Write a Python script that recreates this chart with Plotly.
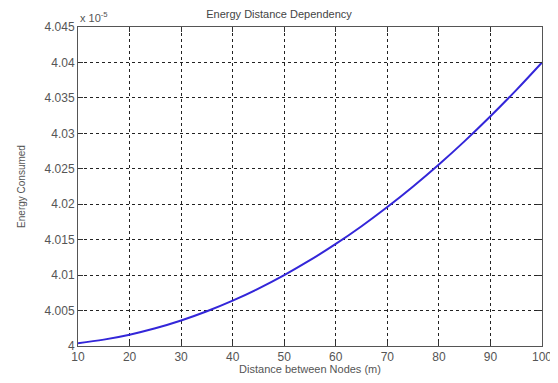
import plotly.graph_objects as go

distance = [10, 15, 20, 25, 30, 35, 40, 45, 50, 55, 60, 65, 70, 75, 80, 85, 90, 95, 100]
energy = [4.0004, 4.0009, 4.0016, 4.0025, 4.0036, 4.0049, 4.0064, 4.0081, 4.0100, 4.0121,
          4.0144, 4.0169, 4.0196, 4.0225, 4.0256, 4.0289, 4.0324, 4.0361, 4.0400]

x_ticks = [10, 20, 30, 40, 50, 60, 70, 80, 90, 100]
y_ticks = [4.0, 4.005, 4.01, 4.015, 4.02, 4.025, 4.03, 4.035, 4.04, 4.045]
y_tick_labels = ["4", "4.005", "4.01", "4.015", "4.02", "4.025", "4.03", "4.035", "4.04", "4.045"]

fig = go.Figure()
fig.add_trace(go.Scatter(x=distance, y=energy, mode="lines", line=dict(color="#3326d9", width=2, shape="spline")))

font = dict(family="Liberation Sans, Arial", size=11, color="#555555")
fig.update_layout(
    width=542, height=367,
    margin=dict(l=70, r=8, t=19, b=29, autoexpand=False),
    paper_bgcolor="white", plot_bgcolor="white",
    showlegend=False,
    font=font,
    title=dict(text="Energy Distance Dependency", x=0.5, xanchor="center", y=0.982, yanchor="middle",
               font=dict(family="Liberation Sans, Arial", size=11, color="#444444")),
)
fig.update_xaxes(range=[10, 100], tickvals=x_ticks, ticks="inside", ticklen=5, tickcolor="#333333",
                 showline=True, linecolor="#555555", linewidth=1, mirror="ticks", automargin=False,
                 ticklabeloverflow="allow",
                 showgrid=True, gridcolor="#222222", griddash="3px,3px", gridwidth=1, zeroline=False,
                 tickfont=dict(size=12, color="#555555"),
                 title=dict(text="Distance between Nodes (m)", standoff=3, font=dict(size=11, color="#555555")))
fig.update_yaxes(range=[4.0, 4.045], tickvals=y_ticks, ticktext=y_tick_labels, ticks="inside", ticklen=5,
                 tickcolor="#333333", showline=True, linecolor="#555555", linewidth=1, mirror="ticks",
                 automargin=False, ticklabeloverflow="allow",
                 showgrid=True, gridcolor="#222222", griddash="3px,3px", gridwidth=1, zeroline=False,
                 tickfont=dict(size=12, color="#555555"),
                 title=dict(text="Energy Consumed", standoff=17, font=dict(size=10, color="#555555")))
fig.add_annotation(xref="paper", yref="paper", x=0, y=1, xanchor="left", yanchor="bottom", showarrow=False,
                   text="x 10<sup>-5</sup>", font=dict(size=11, color="#555555"), yshift=1)
fig.write_html("out.html")
